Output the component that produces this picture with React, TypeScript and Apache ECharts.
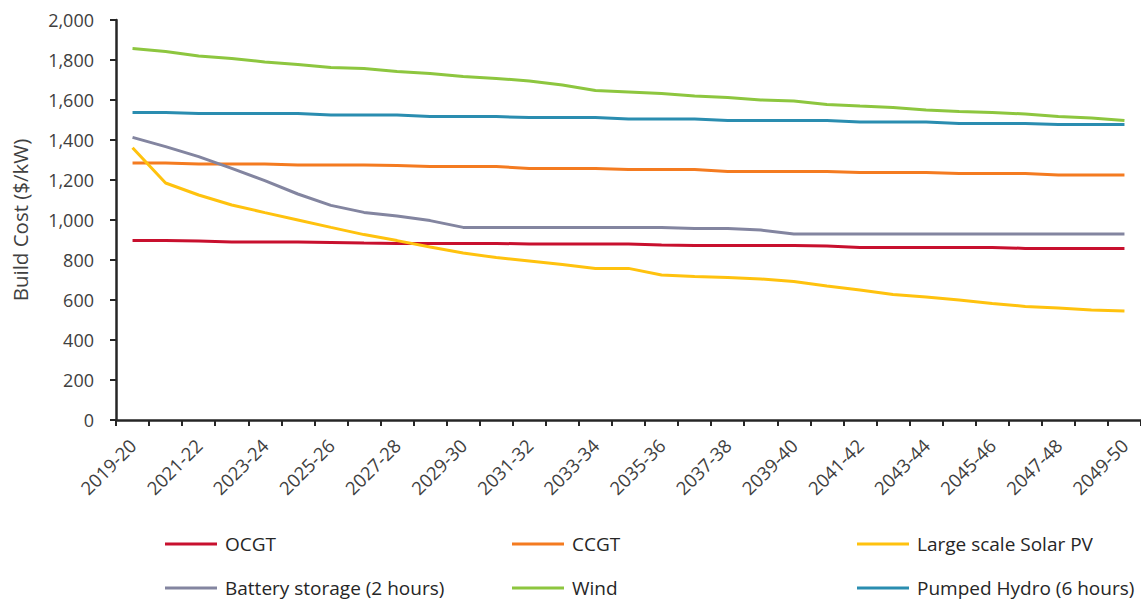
import React, { useEffect, useRef } from "react";
import * as echarts from "echarts";

const categories = [
  "2019-20", "2020-21", "2021-22", "2022-23", "2023-24", "2024-25", "2025-26", "2026-27",
  "2027-28", "2028-29", "2029-30", "2030-31", "2031-32", "2032-33", "2033-34", "2034-35",
  "2035-36", "2036-37", "2037-38", "2038-39", "2039-40", "2040-41", "2041-42", "2042-43",
  "2043-44", "2044-45", "2045-46", "2046-47", "2047-48", "2048-49", "2049-50",
];

const ocgt = [897, 897, 895, 890, 890, 890, 888, 885, 883, 883, 883, 883, 880, 880, 880, 880, 875, 873, 873, 873, 873, 870, 863, 863, 863, 863, 863, 858, 857, 857, 857];
const ccgt = [1285, 1285, 1280, 1280, 1280, 1275, 1275, 1275, 1272, 1267, 1267, 1267, 1258, 1258, 1258, 1252, 1252, 1252, 1243, 1243, 1243, 1243, 1237, 1237, 1237, 1232, 1232, 1232, 1225, 1225, 1225];
const solar = [1361, 1185, 1125, 1075, 1037, 1000, 963, 927, 897, 865, 835, 812, 795, 777, 758, 758, 725, 717, 712, 705, 692, 670, 650, 628, 615, 600, 583, 568, 560, 550, 545];
const battery = [1413, 1367, 1317, 1258, 1197, 1130, 1073, 1038, 1020, 997, 963, 963, 963, 963, 963, 963, 963, 958, 958, 950, 930, 930, 930, 930, 930, 930, 930, 930, 930, 930, 930];
const wind = [1857, 1842, 1820, 1808, 1790, 1778, 1763, 1758, 1743, 1733, 1717, 1708, 1695, 1675, 1647, 1640, 1633, 1620, 1612, 1600, 1595, 1578, 1570, 1563, 1550, 1542, 1537, 1530, 1517, 1510, 1497];
const pumpedHydro = [1538, 1537, 1532, 1532, 1532, 1532, 1525, 1525, 1525, 1518, 1518, 1517, 1513, 1513, 1513, 1505, 1505, 1505, 1497, 1497, 1497, 1497, 1490, 1490, 1490, 1483, 1483, 1483, 1477, 1477, 1477];

const seriesNames = [
  "OCGT",
  "CCGT",
  "Large scale Solar PV",
  "Battery storage (2 hours)",
  "Wind",
  "Pumped Hydro (6 hours)",
];
const seriesData = [ocgt, ccgt, solar, battery, wind, pumpedHydro];
const colors = ["#C8102E", "#F47B20", "#FFC20E", "#8385A0", "#8DC63F", "#2A8DB0"];

const FONT = "'Open Sans', 'Noto Sans', sans-serif";
const TEXT = "#404040";

export default function App() {
  const ref = useRef<HTMLDivElement>(null);

  useEffect(() => {
    if (!ref.current) return;
    const chart = echarts.init(ref.current, undefined, { renderer: "svg" });

    const legendLefts = [165, 512, 857];
    const legendTops = [533, 577];
    const legends = seriesNames.map((name, i) => ({
      left: legendLefts[i % 3],
      top: legendTops[Math.floor(i / 3)],
      padding: 0,
      itemWidth: 52,
      itemHeight: 3,
      icon: "rect",
      selectedMode: false,
      data: [name],
      textStyle: {
        fontFamily: FONT,
        fontSize: 19,
        color: "#262626",
        lineHeight: 22,
        padding: [0, 0, 0, 3],
      },
    }));

    chart.setOption({
      animation: false,
      color: colors,
      textStyle: { fontFamily: FONT },
      grid: { left: 116, right: -2, top: 20, bottom: 183, containLabel: false },
      legend: legends,
      xAxis: {
        type: "category",
        data: categories,
        boundaryGap: true,
        axisLine: { lineStyle: { color: "#262626", width: 2.5 } },
        axisTick: { show: true, length: 6, lineStyle: { color: "#262626", width: 2 }, interval: 0 },
        axisLabel: {
          interval: 1,
          rotate: 45,
          margin: 22,
          fontSize: 18.5,
          color: TEXT,
          fontFamily: FONT,
        },
      },
      yAxis: {
        type: "value",
        min: 0,
        max: 2000,
        interval: 200,
        name: "Build Cost ($/kW)",
        nameLocation: "middle",
        nameGap: 86,
        nameTextStyle: { fontSize: 20.5, color: TEXT, fontFamily: FONT },
        splitLine: { show: false },
        axisLine: { show: true, lineStyle: { color: "#262626", width: 2.5 } },
        axisTick: { show: true, length: 6, lineStyle: { color: "#262626", width: 2 } },
        axisLabel: {
          margin: 22,
          fontSize: 18,
          color: TEXT,
          fontFamily: FONT,
          formatter: (v: number) => v.toLocaleString("en-US"),
        },
      },
      series: seriesNames.map((name, i) => ({
        name,
        type: "line",
        data: seriesData[i],
        showSymbol: false,
        symbol: "none",
        lineStyle: { width: 3, color: colors[i] },
        itemStyle: { color: colors[i] },
      })),
    });

    return () => chart.dispose();
  }, []);

  return (
    <div
      ref={ref}
      style={{ position: "fixed", left: 0, top: 0, width: 1141, height: 603, background: "#fff" }}
    />
  );
}
